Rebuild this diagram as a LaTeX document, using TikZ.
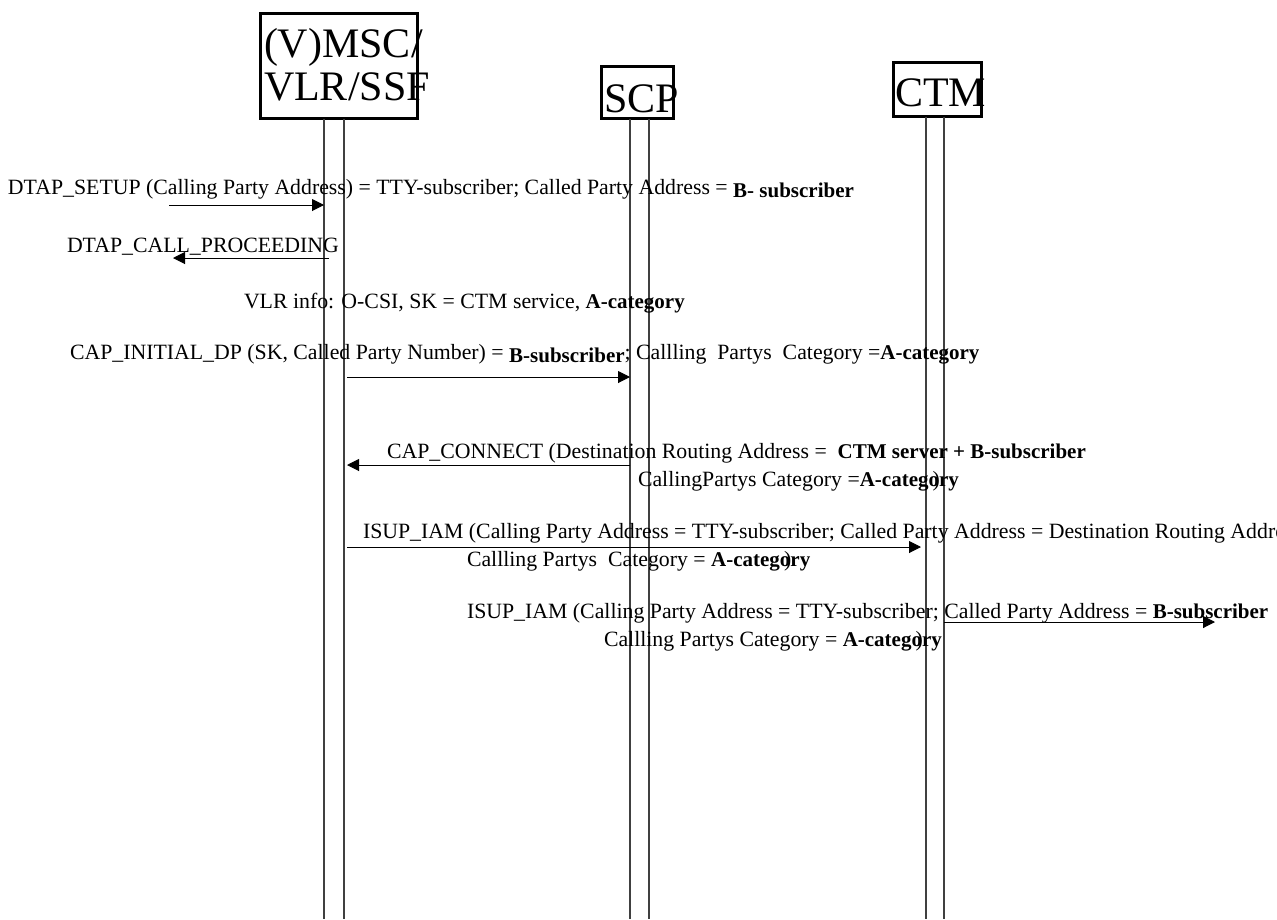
\documentclass[tikz,border=0pt]{standalone}
\usepackage{fontspec}
\setmainfont{Liberation Serif}
\usetikzlibrary{positioning}
\usetikzlibrary{%
  calc,%
  arrows.meta%
}
\newcommand{\bval}[1]{{\fontsize{21}{21}\selectfont\bfseries #1}}
\newcommand{\catclose}{\llap{)\kern19pt}}

\begin{document}
\begin{tikzpicture}[x=1pt, y=-1pt, every node/.style={inner sep=0pt, outer sep=0pt},
  entity/.style={draw, line width=3pt},
  entitytext/.style={anchor=base west, font=\fontsize{42}{43}\selectfont, align=left},
  msg/.style={anchor=base west, font=\fontsize{21.8}{22}\selectfont},
  life/.style={line width=1.2pt, black!75},
  sig/.style={line width=1pt, -{Triangle[length=12pt, width=12pt]}}]
\clip (0,0) rectangle (1277,919);
\useasboundingbox (0,0) rectangle (1277,919);

\node[entity, minimum width=157, minimum height=105] (msc) at (339,66) {};
\node[entity, minimum width=72, minimum height=52] (scp) at (637.5,92.5) {};
\node[entity, minimum width=88, minimum height=54] (ctm) at (937.5,89.5) {};
\node[entitytext] (msctext) at (264,100) {(V)MSC/\\VLR/SSF};
\node[entitytext] (scptext) at (604,112) {SCP};
\node[entitytext] (ctmtext) at (895,106) {CTM};

\coordinate (msc1) at ([xshift=-15pt]msc.south);
\coordinate (msc2) at ([xshift=5pt]msc.south);
\coordinate (scp1) at ([xshift=-7.5pt]scp.south);
\coordinate (scp2) at ([xshift=11.5pt]scp.south);
\coordinate (ctm1) at ([xshift=-11.5pt]ctm.south);
\coordinate (ctm2) at ([xshift=6.5pt]ctm.south);
\foreach \l in {msc1,msc2,scp1,scp2,ctm1,ctm2}
  \draw[life] (\l) -- (\l |- 0,919);

\node[msg] (setup) at (8,194) {DTAP\_SETUP (Calling Party Address) = TTY-subscriber; Called Party Address = \raisebox{-3pt}{\bval{B- subscriber}}};
\node[msg] (proceed) at (67,252) {DTAP\_CALL\_PROCEEDING};
\node[msg] (vlrinfo) at (244,308) {VLR info: O-CSI, SK = CTM service, \bval{A-category}};
\node[msg] (initdp) at (70,359) {CAP\_INITIAL\_DP (SK, Called Party Number) = \raisebox{-3pt}{\bval{B-subscriber}}; Callling \ Partys \ Category =\bval{A-category}};
\node[msg] (connect) at (387,458) {CAP\_CONNECT (Destination Routing Address = \ \bval{CTM server + B-subscriber}};
\node[msg] (connectb) at (638,486) {CallingPartys Category =\bval{A-category}\catclose};
\node[msg] (iama) at (363,538) {ISUP\_IAM (Calling Party Address = TTY-subscriber; Called Party Address = Destination Routing Address};
\node[msg] (iamab) at (467,566) {Callling Partys \ Category = \bval{A-category}\catclose};
\node[msg] (iamb) at (467,618) {ISUP\_IAM (Calling Party Address = TTY-subscriber; Called Party Address = \bval{B-subscriber}};
\node[msg] (iambb) at (604,646) {Callling Partys Category = \bval{A-category}\catclose};

\coordinate (setupstart) at (169,205);
\coordinate (proceedstart) at ([xshift=5pt]msc1 |- 0,258);
\coordinate (proceedend) at (173,258);
\coordinate (iambend) at (1215,622);
\draw[sig] (setupstart) -- (msc1 |- setupstart);
\draw[sig] (proceedstart) -- (proceedend);
\draw[sig] ([xshift=3pt]msc2 |- 0,377) -- (scp1 |- 0,377);
\draw[sig] (scp1 |- 0,465) -- ([xshift=3pt]msc2 |- 0,465);
\draw[sig] ([xshift=3pt]msc2 |- 0,547) -- ([xshift=-5pt]ctm1 |- 0,547);
\draw[sig] (ctm2 |- iambend) -- (iambend);
\end{tikzpicture}
\end{document}
